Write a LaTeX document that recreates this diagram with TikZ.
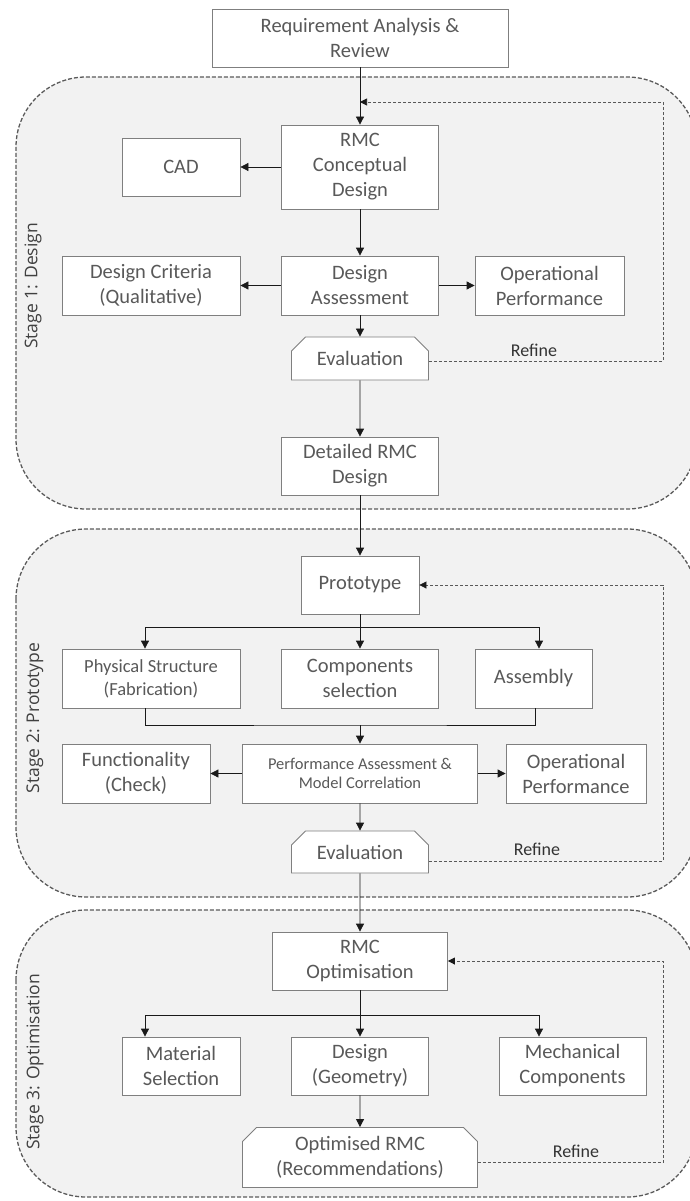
\documentclass[tikz,border=0pt]{standalone}
\usepackage{fontspec}
\setmainfont{Carlito}
\newfontfamily\stagefont{Open Sans}
\usetikzlibrary{arrows.meta,calc,shapes.misc}
\definecolor{boxedge}{HTML}{7F7F7F}
\definecolor{boxtext}{HTML}{595959}
\definecolor{arrowcol}{HTML}{1A1A1A}
\definecolor{fbcol}{HTML}{595959}
\definecolor{stagefill}{HTML}{F2F2F2}
\definecolor{stageedge}{HTML}{5A5A5A}
\definecolor{stagetext}{HTML}{404040}
\definecolor{refinetext}{HTML}{333333}
\tikzset{
  procbox/.style={draw=boxedge, line width=0.8pt, fill=white, text=boxtext,
    inner sep=2pt, align=center, font=\fontsize{20.5}{25}\selectfont},
  snipbox/.style={procbox, chamfered rectangle,
    chamfered rectangle corners={north west,north east},
    chamfered rectangle xsep=7pt, chamfered rectangle ysep=7pt},
  wh/.style 2 args={minimum width=#1pt, minimum height=#2pt},
  arr/.style={draw=arrowcol, line width=0.8pt, -{Triangle[length=8pt,width=8pt]}},
  link/.style={draw=arrowcol, line width=0.8pt},
  fb/.style={draw=fbcol, line width=0.7pt, dash pattern=on 3pt off 2pt,
    -{Triangle[length=7pt,width=7pt,fill=arrowcol,color=arrowcol]}},
  stagebox/.style={fill=stagefill, draw=stageedge, line width=1.3pt,
    dash pattern=on 4pt off 2pt, rounded corners=70pt},
  stagelabel/.style={rotate=90, text=stagetext, inner sep=0pt,
    font=\stagefont\fontsize{17.5}{20}\selectfont},
  refinelabel/.style={text=refinetext, inner sep=0pt, font=\fontsize{18}{22}\selectfont},
}
\begin{document}
\begin{tikzpicture}[x=1pt, y=-1pt]
\useasboundingbox (0,0) rectangle (690,1201);
\clip (0,0) rectangle (690,1201);

% stage containers
\draw[stagebox] (16,77) rectangle (697,509);
\draw[stagebox] (16,529) rectangle (697,897);
\draw[stagebox] (16,910) rectangle (697,1197);

\node[stagelabel] (st1) at (33,286) {Stage 1: Design};
\node[stagelabel] (st2) at (35,718) {Stage 2: Prototype};
\node[stagelabel] (st3) at (35,1062) {Stage 3: Optimisation};

% stage 1: design
\node[procbox, wh={296}{58}] (req) at (360,38) {Requirement Analysis \&\\Review};
\node[procbox, wh={157}{84}] (rmc) at (360,167) {RMC\\Conceptual\\Design};
\node[procbox, wh={118}{58}] (cad) at (181,167) {CAD};
\node[procbox, wh={157}{59}] (da) at (360,285.5) {Design\\Assessment};
\node[procbox, wh={178}{59}] (dc) at (151,285.5) {Design Criteria\\(Qualitative)};
\node[procbox, wh={149}{59}] (op1) at (549.5,285.5) {Operational\\Performance};
\node[snipbox, wh={137}{43}] (ev1) at (360,358.5) {Evaluation};
\node[procbox, wh={157}{58}] (drd) at (360,466) {Detailed RMC\\Design};

% stage 2: prototype
\node[procbox, wh={118}{58}] (proto) at (360,585) {Prototype};
\node[procbox, wh={178}{59}, font=\fontsize{18.5}{23}\selectfont] (phys) at (151,678.5) {Physical Structure\\(Fabrication)};
\node[procbox, wh={157}{59}] (comp) at (360,678.5) {Components\\selection};
\node[procbox, wh={117}{59}] (asm) at (533.5,678.5) {Assembly};
\node[procbox, wh={235}{59}, font=\fontsize{16.5}{19}\selectfont] (pa) at (360,773.5) {Performance Assessment \&\\Model Correlation};
\node[procbox, wh={148}{59}] (func) at (136,773.5) {Functionality\\(Check)};
\node[procbox, wh={140}{59}] (op2) at (576,773.5) {Operational\\Performance};
\node[snipbox, wh={137}{42}] (ev2) at (360,852) {Evaluation};

% stage 3: optimisation
\node[procbox, wh={175}{58}] (ropt) at (360,961) {RMC\\Optimisation};
\node[procbox, wh={118}{58}] (mat) at (181,1066) {Material\\Selection};
\node[procbox, wh={137}{58}] (dg) at (360,1066) {Design\\(Geometry)};
\node[procbox, wh={147}{58}] (mech) at (572.5,1066) {Mechanical\\Components};
\node[snipbox, wh={235}{59}] (opt) at (360,1157.5) {Optimised RMC\\(Recommendations)};

% refine labels
\node[refinelabel] (rf1) at (534,350) {Refine};
\node[refinelabel] (rf2) at (537,849) {Refine};
\node[refinelabel] (rf3) at (576,1151) {Refine};

% helper points
\coordinate (in1) at (360,102);
\coordinate (fb1) at (663,102);
\coordinate (fb2) at (663,700);
\coordinate (fb3) at (663,1050);
\coordinate (sp1) at (360,627);
\coordinate (mg) at (360,725);
\coordinate (sp3) at (360,1015);

% stage 1 connectors
\draw[arr] (req) -- (rmc);
\draw[arr] (rmc) -- (cad);
\draw[arr] (rmc) -- (da);
\draw[arr] (da) -- (dc);
\draw[arr] (da) -- (op1);
\draw[arr] (da) -- (ev1);
\draw[arr] (ev1) -- (drd);
\draw[fb] ([yshift=-2.5pt]ev1.east) -| (fb1) -- (in1);

% stage 2 connectors
\draw[arr] (drd) -- (proto);
\draw[link] (proto.south) -- (sp1);
\draw[arr] (sp1) -| ([xshift=-6pt]phys.north);
\draw[arr] (sp1) -- (comp.north);
\draw[arr] (sp1) -| ([xshift=5.5pt]asm.north);
\draw[link] ([xshift=-6pt]phys.south) |- (mg) -| ([xshift=1.5pt]asm.south);
\draw[arr] (mg) -- (pa);
\draw[arr] (pa) -- (func);
\draw[arr] (pa) -- (op2);
\draw[arr] (pa) -- (ev2);
\draw[fb] ([yshift=-9pt]ev2.east) -| (fb2) |- (proto.east);

% stage 3 connectors
\draw[arr] (ev2) -- (ropt);
\draw[link] (ropt.south) -- (sp3);
\draw[arr] (sp3) -| ([xshift=-36pt]mat.north);
\draw[arr] (sp3) -- (dg.north);
\draw[arr] (sp3) -| ([xshift=-33.5pt]mech.north);
\draw[arr] (dg) -- (opt);
\draw[fb] ([yshift=-5pt]opt.east) -| (fb3) |- (ropt.east);
\end{tikzpicture}
\end{document}
